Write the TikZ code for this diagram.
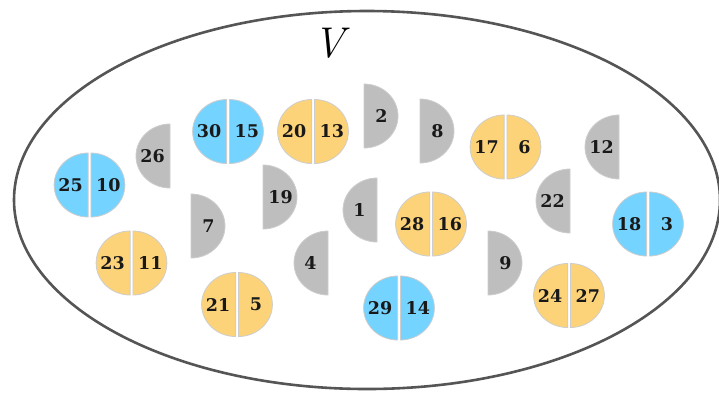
\documentclass[tikz,border=0pt]{standalone}
\usepackage{fontspec}
\newfontfamily\numfont{DejaVu Serif}
\definecolor{cblue}{RGB}{117,211,255}
\definecolor{corange}{RGB}{253,211,122}
\definecolor{cgray}{RGB}{190,190,190}
\definecolor{cedge}{RGB}{205,205,205}
\definecolor{cring}{RGB}{85,85,85}
\newcommand\leftHalf[5]{%
  \draw[half,fill=#3] (#1,#2) ++(0,-32) arc[start angle=-90,end angle=-270,x radius=34,y radius=32] -- cycle;
  \node[lbl] (#5) at (#1-17.5,#2) {#4};}
\newcommand\rightHalf[5]{%
  \draw[half,fill=#3] (#1,#2) ++(0,-32) arc[start angle=-90,end angle=90,x radius=34,y radius=32] -- cycle;
  \node[lbl] (#5) at (#1+17.5,#2) {#4};}
\newcommand\splitDisc[6]{%
  \leftHalf{#1-1.4}{#2}{#3}{#4}{#6a}%
  \rightHalf{#1+1.4}{#2}{#3}{#5}{#6b}}
\begin{document}
\begin{tikzpicture}[x=1pt,y=-1pt,
  half/.style={draw=cedge,line width=0.8pt},
  lbl/.style={font=\numfont\bfseries\fontsize{17.5}{17.5}\selectfont,inner sep=0pt,text=black!90}]
\useasboundingbox (0,0) rectangle (719,392);
\draw[line width=2.6pt,color=cring] (367,200) ellipse [x radius=353, y radius=189];
\node[font=\fontsize{43}{43}\selectfont\itshape,inner sep=0pt] (V) at (329,43) {V};
% gray halves
\leftHalf{170}{156}{cgray}{26}{g26}
\rightHalf{364}{116}{cgray}{2}{g2}
\rightHalf{420}{131}{cgray}{8}{g8}
\leftHalf{619}{147}{cgray}{12}{g12}
\leftHalf{570}{201}{cgray}{22}{g22}
\rightHalf{263}{197}{cgray}{19}{g19}
\rightHalf{191}{226}{cgray}{7}{g7}
\leftHalf{328}{263}{cgray}{4}{g4}
\leftHalf{377}{210}{cgray}{1}{g1}
\rightHalf{488}{263}{cgray}{9}{g9}
% split discs
\splitDisc{228}{131.5}{cblue}{30}{15}{d30}
\splitDisc{313}{131.5}{corange}{20}{13}{d20}
\splitDisc{89.5}{185}{cblue}{25}{10}{d25}
\splitDisc{505.5}{147}{corange}{17}{6}{d17}
\splitDisc{131.5}{263}{corange}{23}{11}{d23}
\splitDisc{237}{304.5}{corange}{21}{5}{d21}
\splitDisc{431}{224}{corange}{28}{16}{d28}
\splitDisc{648}{224}{cblue}{18}{3}{d18}
\splitDisc{399}{308}{cblue}{29}{14}{d29}
\splitDisc{569}{295.5}{corange}{24}{27}{d24}
\end{tikzpicture}
\end{document}
